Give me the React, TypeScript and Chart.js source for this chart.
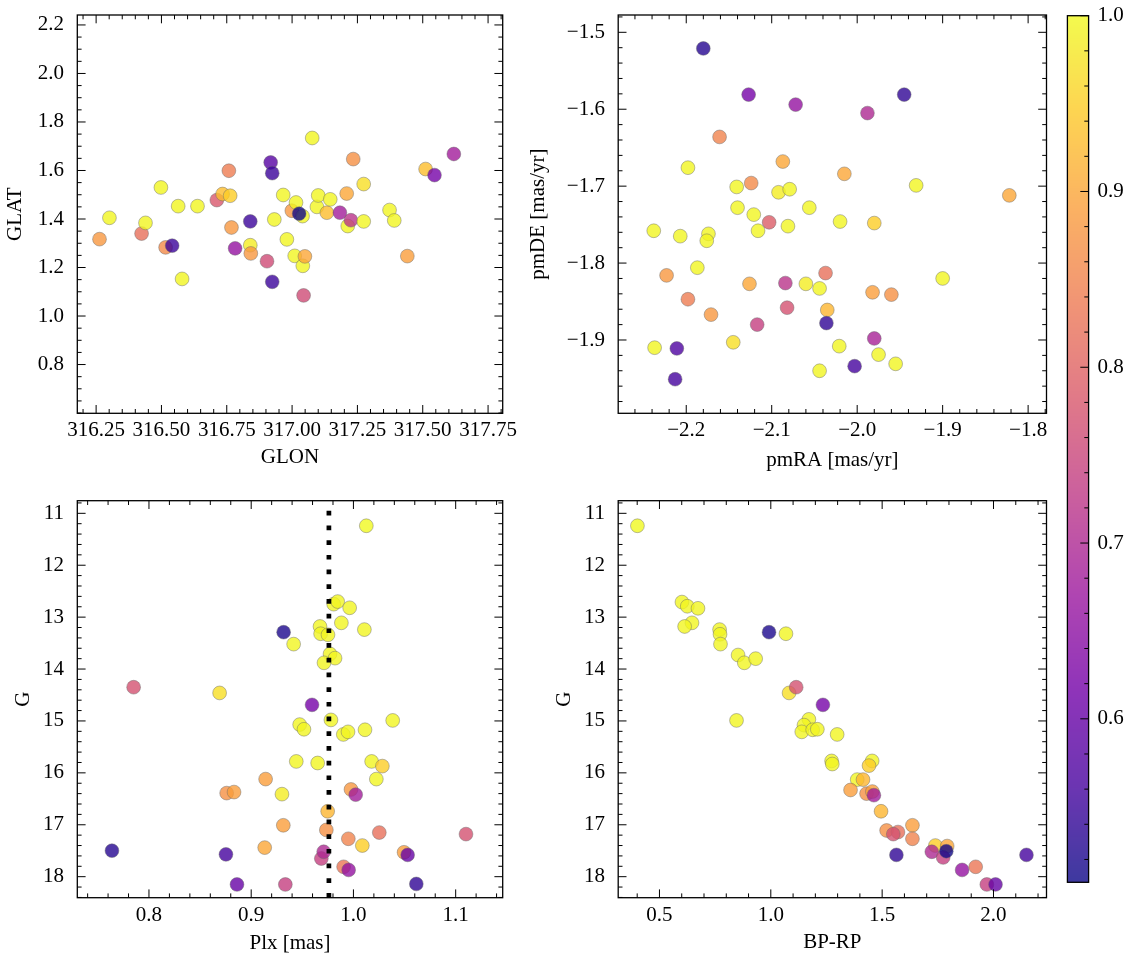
import React, { useEffect, useRef } from "react";
import { Chart, registerables } from "chart.js";

Chart.register(...registerables);

const FONT_FAMILY = "'Liberation Serif', 'Times New Roman', serif";
const FONT_SIZE = 21;

// ---------- Panel 1: sky positions ----------
const GLON = [316.263, 316.301, 316.424, 316.439, 316.498, 316.516, 316.541, 316.564, 316.579, 316.638,
  316.712, 316.734, 316.763, 316.758, 316.768, 316.782, 316.840, 316.842, 316.840, 316.904,
  316.918, 316.924, 316.924, 316.932, 316.966, 316.980, 316.999, 317.015, 317.010, 317.040,
  317.027, 317.041, 317.049, 317.044, 317.077, 317.095, 317.100, 317.133, 317.146, 317.183,
  317.209, 317.213, 317.225, 317.234, 317.274, 317.274, 317.373, 317.391, 317.441, 317.511,
  317.545, 317.619];
const GLAT = [1.317, 1.405, 1.340, 1.384, 1.530, 1.283, 1.290, 1.453, 1.153, 1.453,
  1.478, 1.503, 1.496, 1.599, 1.365, 1.279, 1.292, 1.258, 1.390, 1.226,
  1.633, 1.589, 1.141, 1.398, 1.499, 1.316, 1.434, 1.468, 1.248, 1.412,
  1.422, 1.207, 1.246, 1.085, 1.734, 1.450, 1.497, 1.426, 1.481, 1.426,
  1.505, 1.371, 1.395, 1.647, 1.544, 1.390, 1.437, 1.394, 1.247, 1.606,
  1.581, 1.668];
const PROB_SKY = [0.88, 0.995, 0.82, 0.995, 0.995, 0.86, 0.55, 0.995, 0.995, 0.995,
  0.78, 0.93, 0.95, 0.84, 0.88, 0.66, 0.985, 0.88, 0.55, 0.76,
  0.58, 0.55, 0.55, 0.995, 0.995, 0.995, 0.88, 0.995, 0.995, 0.995,
  0.51, 0.995, 0.90, 0.76, 0.995, 0.995, 0.995, 0.93, 0.995, 0.68,
  0.90, 0.995, 0.72, 0.87, 0.97, 0.995, 0.995, 0.995, 0.89, 0.93,
  0.62, 0.68];

// ---------- Panel 2: proper motions ----------
const PMRA = [-2.180, -2.127, -2.072, -1.988, -1.945, -2.161, -2.198, -2.087, -2.015, -2.141,
  -2.124, -2.092, -2.079, -1.931, -1.822, -2.140, -2.121, -2.056, -2.103, -2.116,
  -2.081, -2.020, -1.980, -2.238, -2.207, -2.174, -2.176, -2.187, -2.223, -2.198,
  -2.171, -2.126, -2.084, -2.060, -2.044, -2.037, -2.035, -2.082, -2.117, -2.036,
  -1.982, -1.960, -1.900, -2.145, -2.237, -2.211, -2.213, -2.021, -1.980, -1.975,
  -1.955, -2.003, -2.044];
const PMDE = [-1.521, -1.581, -1.594, -1.605, -1.581, -1.636, -1.676, -1.668, -1.684, -1.701,
  -1.696, -1.708, -1.704, -1.699, -1.712, -1.728, -1.737, -1.728, -1.747, -1.758,
  -1.752, -1.746, -1.748, -1.758, -1.765, -1.762, -1.771, -1.806, -1.816, -1.847,
  -1.867, -1.827, -1.826, -1.827, -1.833, -1.813, -1.861, -1.858, -1.880, -1.878,
  -1.838, -1.841, -1.820, -1.903, -1.910, -1.911, -1.951, -1.908, -1.898, -1.919,
  -1.931, -1.934, -1.940];
const PROB_PM = [0.53, 0.62, 0.66, 0.70, 0.54, 0.85, 0.995, 0.90, 0.90, 0.995,
  0.86, 0.985, 0.995, 0.995, 0.90, 0.995, 0.995, 0.995, 0.79, 0.995,
  0.995, 0.995, 0.95, 0.995, 0.995, 0.995, 0.995, 0.995, 0.88, 0.84,
  0.88, 0.90, 0.72, 0.985, 0.995, 0.82, 0.92, 0.77, 0.74, 0.54,
  0.89, 0.87, 0.995, 0.97, 0.995, 0.57, 0.56, 0.995, 0.69, 0.995,
  0.995, 0.56, 0.995];

// ---------- Panel 3: parallax vs G ----------
const PLX = [1.0126, 0.9807, 0.9846, 0.9963, 0.9882, 1.0107, 0.9673, 0.9679, 0.9751, 0.9317,
  0.9415, 0.9771, 0.9820, 0.9712, 0.7850, 0.8691, 0.9595, 0.9780, 1.0384, 0.9474,
  0.9516, 0.9901, 0.9947, 1.0113, 0.9441, 0.9650, 1.0178, 1.0283, 1.0224, 0.9141,
  0.8760, 0.8832, 0.9301, 0.9976, 1.0022, 0.9748, 0.9314, 0.9735, 0.9950, 1.0253,
  1.1101, 1.0087, 0.9132, 0.7638, 0.8753, 0.9686, 0.9709, 1.0495, 1.0530, 0.9904,
  0.9953, 0.8861, 0.9334, 1.0615];
const G_PLX = [11.24, 12.75, 12.70, 12.82, 13.11, 13.24, 13.18, 13.32, 13.34, 13.29,
  13.52, 13.71, 13.79, 13.88, 14.35, 14.46, 14.69, 14.98, 14.99, 15.07,
  15.16, 15.26, 15.21, 15.17, 15.78, 15.81, 15.78, 15.87, 16.12, 16.12,
  16.39, 16.37, 16.41, 16.32, 16.42, 16.74, 17.01, 17.10, 17.27, 17.15,
  17.18, 17.40, 17.44, 17.50, 17.57, 17.65, 17.52, 17.53, 17.58, 17.81,
  17.87, 18.15, 18.15, 18.14];
const PROB_PLX = [1.0, 0.995, 0.995, 0.995, 0.995, 0.995, 0.995, 0.995, 0.995, 0.52,
  0.995, 0.995, 0.995, 0.995, 0.77, 0.97, 0.62, 0.995, 0.995, 0.995,
  0.995, 0.995, 0.995, 0.995, 0.995, 0.995, 0.995, 0.95, 0.995, 0.89,
  0.87, 0.89, 0.985, 0.88, 0.68, 0.92, 0.89, 0.87, 0.85, 0.82,
  0.77, 0.95, 0.90, 0.53, 0.56, 0.74, 0.70, 0.89, 0.60, 0.83,
  0.66, 0.60, 0.74, 0.54];
const PLX_MEAN = 0.976;

// ---------- Panel 4: colour-magnitude ----------
const BPRP = [0.401, 0.601, 0.625, 0.673, 0.646, 0.613, 0.770, 0.772, 0.774, 0.992,
  1.068, 0.853, 0.881, 0.932, 1.082, 1.114, 1.234, 0.846, 1.171, 1.149,
  1.139, 1.188, 1.209, 1.298, 1.273, 1.276, 1.455, 1.441, 1.388, 1.414,
  1.358, 1.430, 1.456, 1.463, 1.495, 1.636, 1.520, 1.571, 1.550, 1.636,
  1.739, 1.792, 1.723, 1.774, 1.788, 1.564, 1.859, 1.920, 1.970, 2.009,
  2.148];
const G_CMD = [11.24, 12.71, 12.79, 12.83, 13.11, 13.18, 13.24, 13.33, 13.52, 13.29,
  13.32, 13.73, 13.88, 13.80, 14.46, 14.35, 14.69, 14.99, 14.97, 15.08,
  15.21, 15.17, 15.16, 15.26, 15.77, 15.83, 15.77, 15.86, 16.13, 16.13,
  16.33, 16.40, 16.36, 16.43, 16.74, 17.01, 17.11, 17.14, 17.18, 17.27,
  17.40, 17.41, 17.52, 17.63, 17.51, 17.58, 17.87, 17.81, 18.15, 18.15,
  17.58];
const PROB_CMD = [1.0, 0.995, 0.995, 0.995, 0.995, 0.995, 0.995, 0.995, 0.995, 0.52,
  0.995, 0.995, 0.995, 0.995, 0.97, 0.77, 0.62, 0.995, 0.995, 0.995,
  0.995, 0.995, 0.995, 0.995, 0.995, 0.995, 0.995, 0.95, 0.995, 0.92,
  0.89, 0.87, 0.89, 0.68, 0.92, 0.89, 0.87, 0.82, 0.77, 0.85,
  0.95, 0.90, 0.70, 0.74, 0.51, 0.54, 0.66, 0.83, 0.74, 0.60,
  0.56];

// ---------- Tick labels ----------
const GLON_TICKS = [316.25, 316.5, 316.75, 317.0, 317.25, 317.5, 317.75];
const GLAT_TICKS = [0.8, 1.0, 1.2, 1.4, 1.6, 1.8, 2.0, 2.2];
const PMRA_TICKS = [-2.2, -2.1, -2.0, -1.9, -1.8];
const PMDE_TICKS = [-1.9, -1.8, -1.7, -1.6, -1.5];
const PLX_TICKS = [0.8, 0.9, 1.0, 1.1];
const G_TICKS = [11, 12, 13, 14, 15, 16, 17, 18];
const BPRP_TICKS = [0.5, 1.0, 1.5, 2.0];
const CB_TICKS = [0.6, 0.7, 0.8, 0.9, 1.0];

// ---------- colour map ----------
const PLASMA = ["#0D0887", "#47039F", "#7301A8", "#9C179E", "#BD3786", "#D8576B", "#ED7953", "#FA9E3B", "#FDC926", "#F0F921"];
const CB_MIN = 0.507;
const CB_MAX = 1.0;
const ALPHA = 0.8;

function hexRgb(h: string): number[] {
  return [parseInt(h.slice(1, 3), 16), parseInt(h.slice(3, 5), 16), parseInt(h.slice(5, 7), 16)];
}
const PLASMA_RGB = PLASMA.map(hexRgb);
function plasmaRgb(t: number): number[] {
  const tt = Math.max(0, Math.min(1, t));
  const n = PLASMA_RGB.length - 1;
  const f = tt * n;
  const i = Math.min(Math.floor(f), n - 1);
  const u = f - i;
  const a = PLASMA_RGB[i], b = PLASMA_RGB[i + 1];
  return [0, 1, 2].map((k) => a[k] + (b[k] - a[k]) * u);
}
function probColor(p: number): string {
  const [r, g, b] = plasmaRgb((p - CB_MIN) / (CB_MAX - CB_MIN));
  return `rgba(${r.toFixed(0)},${g.toFixed(0)},${b.toFixed(0)},${ALPHA})`;
}
function probColorOpaque(p: number): string {
  const c = plasmaRgb((p - CB_MIN) / (CB_MAX - CB_MIN)).map((v) => v * ALPHA + 255 * (1 - ALPHA));
  return `rgb(${c[0].toFixed(0)},${c[1].toFixed(0)},${c[2].toFixed(0)})`;
}

const fmt = (d: number) => (v: any) => Number(v).toFixed(d).replace("-", "\u2212");

const MAJOR_LEN = 8.3;
const MINOR_LEN = 4.3;

function minorValues(min: number, max: number, step: number, majors: number[]): number[] {
  const out: number[] = [];
  const k0 = Math.ceil(Math.min(min, max) / step - 1e-9);
  const k1 = Math.floor(Math.max(min, max) / step + 1e-9);
  for (let k = k0; k <= k1; k++) {
    const v = k * step;
    if (!majors.some((m) => Math.abs(m - v) < step * 1e-3)) out.push(v);
  }
  return out;
}

const framePlugin = {
  id: "frame",
  beforeDatasetsDraw(chart: any, _a: any, opts: any) {
    if (opts.gradient) {
      const { ctx, chartArea } = chart;
      const ys = chart.scales.y;
      ctx.save();
      for (let y = Math.floor(chartArea.top); y < Math.ceil(chartArea.bottom); y++) {
        const v = ys.getValueForPixel(y + 0.5);
        ctx.fillStyle = probColorOpaque(v);
        const y0 = Math.max(y, chartArea.top);
        const y1 = Math.min(y + 1, chartArea.bottom);
        ctx.fillRect(chartArea.left, y0, chartArea.right - chartArea.left, y1 - y0);
      }
      ctx.restore();
    }
  },
  afterDatasetsDraw(chart: any, _a: any, opts: any) {
    if (opts.vline !== undefined) {
      const { ctx, chartArea } = chart;
      const x = chart.scales.x.getPixelForValue(opts.vline);
      ctx.save();
      ctx.strokeStyle = "#000";
      ctx.lineWidth = 4.7;
      ctx.lineCap = "butt";
      ctx.setLineDash([4.7, 10]);
      ctx.beginPath();
      ctx.moveTo(x, chartArea.bottom);
      ctx.lineTo(x, chartArea.top);
      ctx.stroke();
      ctx.restore();
    }
  },
  afterDraw(chart: any, _a: any, opts: any) {
    const { ctx, chartArea } = chart;
    const { left, right, top, bottom } = chartArea;
    ctx.save();
    ctx.strokeStyle = "#000";
    ctx.lineWidth = 1;
    ctx.lineCap = "butt";
    const seg = (x1: number, y1: number, x2: number, y2: number) => {
      ctx.beginPath();
      ctx.moveTo(x1, y1);
      ctx.lineTo(x2, y2);
      ctx.stroke();
    };
    for (const axis of opts.axes || []) {
      const sc = chart.scales[axis.id];
      const mins = minorValues(sc.min, sc.max, axis.minorStep, axis.majors);
      const draw = (vals: number[], len: number) =>
        vals.forEach((v) => {
          const p = sc.getPixelForValue(v);
          if (sc.isHorizontal()) {
            if (p < left - 0.5 || p > right + 0.5) return;
            if (axis.sides.includes("bottom")) seg(p, bottom, p, bottom - len);
            if (axis.sides.includes("top")) seg(p, top, p, top + len);
          } else {
            if (p < top - 0.5 || p > bottom + 0.5) return;
            if (axis.sides.includes("left")) seg(left, p, left + len, p);
            if (axis.sides.includes("right")) seg(right, p, right - len, p);
          }
        });
      draw(axis.majors, MAJOR_LEN);
      draw(mins, MINOR_LEN);
    }
    ctx.lineWidth = 1.3;
    ctx.strokeRect(left, top, right - left, bottom - top);
    ctx.restore();
  },
};

const font = { family: FONT_FAMILY, size: FONT_SIZE };

function zeroPad(s: any) {
  s.paddingTop = 0;
  s.paddingBottom = 0;
  s.paddingLeft = 0;
  s.paddingRight = 0;
}

interface PanelSpec {
  xs: number[];
  ys: number[];
  ps: number[];
  xMin: number; xMax: number; yMin: number; yMax: number;
  xTicks: number[]; yTicks: number[];
  xDec: number; yDec: number;
  xMinor: number; yMinor: number;
  xTitle: string; yTitle: string;
  yReverse?: boolean;
  yWidth: number; xHeight: number; padTop: number; padRight: number;
  yTitlePad: number; xTitlePad: number;
  vline?: number;
}

function scatterConfig(s: PanelSpec): any {
  return {
    type: "scatter",
    data: {
      datasets: [
        {
          data: s.xs.map((x, i) => ({ x, y: s.ys[i] })),
          backgroundColor: s.ps.map(probColor),
          borderColor: "rgba(105,105,105,0.75)",
          borderWidth: 0.6,
          pointRadius: 6.9,
          pointHoverRadius: 6.9,
        },
      ],
    },
    options: {
      responsive: false,
      animation: false,
      events: [],
      layout: { padding: { top: s.padTop, right: s.padRight, left: 0, bottom: 0 }, autoPadding: false },
      plugins: {
        legend: { display: false },
        tooltip: { enabled: false },
        frame: {
          vline: s.vline,
          axes: [
            { id: "x", majors: s.xTicks, minorStep: s.xMinor, sides: ["bottom", "top"] },
            { id: "y", majors: s.yTicks, minorStep: s.yMinor, sides: ["left", "right"] },
          ],
        },
      },
      scales: {
        x: {
          type: "linear",
          position: "bottom",
          min: s.xMin,
          max: s.xMax,
          afterBuildTicks: (sc: any) => { sc.ticks = s.xTicks.map((v) => ({ value: v })); },
          afterFit: (sc: any) => { sc.height = s.xHeight; zeroPad(sc); },
          grid: { display: false, drawTicks: false },
          border: { display: false },
          ticks: { callback: fmt(s.xDec), color: "#000", font, padding: 4.9, maxRotation: 0, minRotation: 0, autoSkip: false },
          title: { display: true, text: s.xTitle, color: "#000", font, padding: { top: 0, bottom: s.xTitlePad } },
        },
        y: {
          type: "linear",
          position: "left",
          min: s.yMin,
          max: s.yMax,
          reverse: !!s.yReverse,
          afterBuildTicks: (sc: any) => { sc.ticks = s.yTicks.map((v) => ({ value: v })); },
          afterFit: (sc: any) => { sc.width = s.yWidth; zeroPad(sc); },
          grid: { display: false, drawTicks: false },
          border: { display: false },
          ticks: { callback: fmt(s.yDec), color: "#000", font, padding: 13.3, autoSkip: false },
          title: { display: true, text: s.yTitle, color: "#000", font, padding: { top: s.yTitlePad, bottom: 0 } },
        },
      },
    },
    plugins: [framePlugin],
  };
}

function colorbarConfig(): any {
  return {
    type: "scatter",
    data: { datasets: [] },
    options: {
      responsive: false,
      animation: false,
      events: [],
      layout: { padding: { top: 15.7, right: 0, left: 7.4, bottom: 82.7 }, autoPadding: false },
      plugins: {
        legend: { display: false },
        tooltip: { enabled: false },
        frame: {
          gradient: true,
          axes: [{ id: "y", majors: CB_TICKS, minorStep: 0.02, sides: ["right"] }],
        },
      },
      scales: {
        x: { type: "linear", display: false, min: 0, max: 1 },
        y: {
          type: "linear",
          position: "right",
          min: CB_MIN,
          max: CB_MAX,
          afterBuildTicks: (sc: any) => { sc.ticks = CB_TICKS.map((v) => ({ value: v })); },
          afterFit: (sc: any) => { sc.width = 44.4; zeroPad(sc); },
          grid: { display: false, drawTicks: false },
          border: { display: false },
          ticks: { callback: fmt(1), color: "#000", font, padding: 9, autoSkip: false },
        },
      },
    },
    plugins: [framePlugin],
  };
}

function ChartCanvas({ left, top, width, height, config }: { left: number; top: number; width: number; height: number; config: any }) {
  const ref = useRef<HTMLCanvasElement>(null);
  useEffect(() => {
    const chart = new Chart(ref.current as HTMLCanvasElement, config);
    return () => chart.destroy();
  }, []);
  return (
    <canvas
      ref={ref}
      width={width}
      height={height}
      style={{ position: "absolute", left, top, width, height }}
    />
  );
}

const P1 = scatterConfig({
  xs: GLON, ys: GLAT, ps: PROB_SKY,
  xMin: 316.178, xMax: 317.806, yMin: 0.599, yMax: 2.241,
  xTicks: GLON_TICKS, yTicks: GLAT_TICKS, xDec: 2, yDec: 1, xMinor: 0.05, yMinor: 0.05,
  xTitle: "GLON", yTitle: "GLAT",
  yWidth: 77.3, xHeight: 66.7, padTop: 15, padRight: 17.3, yTitlePad: 3.2, xTitlePad: 9.9,
});
const P2 = scatterConfig({
  xs: PMRA, ys: PMDE, ps: PROB_PM,
  xMin: -2.2796, xMax: -1.7785, yMin: -1.9953, yMax: -1.4775,
  xTicks: PMRA_TICKS, yTicks: PMDE_TICKS, xDec: 1, yDec: 1, xMinor: 0.02, yMinor: 0.02,
  xTitle: "pmRA [mas/yr]", yTitle: "pmDE [mas/yr]",
  yWidth: 98.2, xHeight: 66.7, padTop: 15, padRight: 13.5, yTitlePad: 6.1, xTitlePad: 6.9,
});
const P3 = scatterConfig({
  xs: PLX, ys: G_PLX, ps: PROB_PLX,
  xMin: 0.7299, xMax: 1.146, yMin: 10.757, yMax: 18.405, yReverse: true,
  xTicks: PLX_TICKS, yTicks: G_TICKS, xDec: 1, yDec: 0, xMinor: 0.02, yMinor: 0.2,
  xTitle: "Plx [mas]", yTitle: "G",
  yWidth: 77.3, xHeight: 67.3, padTop: 20.7, padRight: 17.3, yTitlePad: 10.7, xTitlePad: 9.4,
  vline: PLX_MEAN,
});
const P4 = scatterConfig({
  xs: BPRP, ys: G_CMD, ps: PROB_CMD,
  xMin: 0.3147, xMax: 2.238, yMin: 10.757, yMax: 18.405, yReverse: true,
  xTicks: BPRP_TICKS, yTicks: G_TICKS, xDec: 1, yDec: 0, xMinor: 0.1, yMinor: 0.2,
  xTitle: "BP-RP", yTitle: "G",
  yWidth: 98.2, xHeight: 67.3, padTop: 20.7, padRight: 13.5, yTitlePad: 31.4, xTitlePad: 10.4,
});
const CB = colorbarConfig();

export default function App() {
  return (
    <div style={{ position: "absolute", left: 0, top: 0, width: 1133, height: 965, background: "#fff" }}>
      <ChartCanvas left={0} top={0} width={520} height={480} config={P1} />
      <ChartCanvas left={520} top={0} width={540} height={480} config={P2} />
      <ChartCanvas left={0} top={480} width={520} height={485} config={P3} />
      <ChartCanvas left={520} top={480} width={540} height={485} config={P4} />
      <ChartCanvas left={1060} top={0} width={73} height={965} config={CB} />
    </div>
  );
}
